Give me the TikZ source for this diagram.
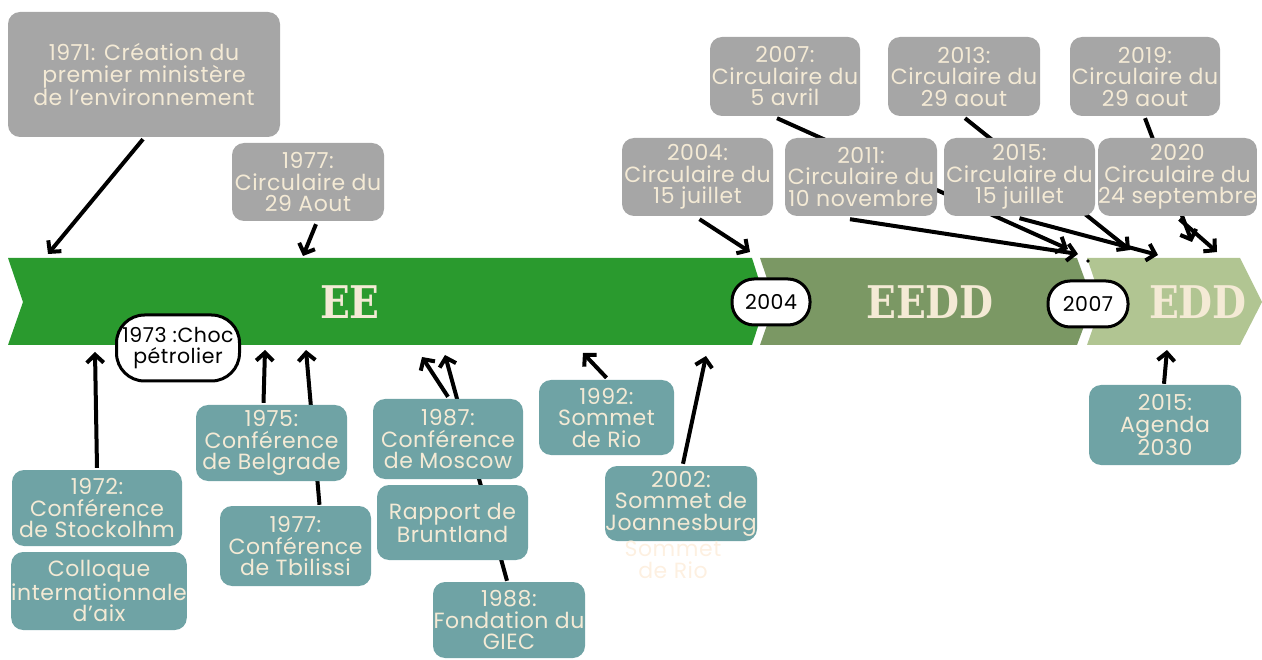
\documentclass[tikz,border=0pt]{standalone}
\usepackage{fontspec}
\setmainfont{Poppins}[LetterSpace=2.5]
\newfontfamily\slab[FakeStretch=0.87]{DejaVu Serif}
\usetikzlibrary{arrows.meta,calc}
\definecolor{boxgray}{HTML}{A6A6A6}
\definecolor{boxteal}{HTML}{6FA3A5}
\definecolor{cream}{HTML}{F4EAD5}
\definecolor{ghost}{HTML}{FDF0E1}
\definecolor{bandA}{HTML}{2A9A2E}
\definecolor{bandB}{HTML}{7B9864}
\definecolor{bandC}{HTML}{B1C592}
\pgfdeclarelayer{background}
\pgfsetlayers{background,main}
\tikzset{
  evbox/.style={rounded corners=12pt, inner sep=0pt, align=center, text=cream,
    font=\fontsize{22}{21.5}\selectfont},
  graybox/.style={evbox, fill=boxgray},
  tealbox/.style={evbox, fill=boxteal},
  oval/.style={draw=black, line width=3pt, fill=white, inner sep=0pt, align=center,
    font=\fontsize{20.5}{21}\selectfont},
  arr/.style={line width=4pt, -{Straight Barb[length=8pt,width=17pt,line width=4pt]}},
  bandlabel/.style={text=cream, font=\slab\bfseries\fontsize{45}{45}\selectfont},
}
\begin{document}
\begin{tikzpicture}[x=1pt,y=-1pt]
\useasboundingbox (0,0) rectangle (1262,660);

% gray boxes (above)
\node[graybox, minimum width=272, minimum height=125] (g1971) at (144,74.5) {1971: Création du\\premier ministère\\de l’environnement};
\node[graybox, minimum width=152, minimum height=78] (g1977) at (308,182) {1977:\\Circulaire du\\29 Aout};
\node[graybox, minimum width=150, minimum height=79] (g2007) at (785,76.5) {2007:\\Circulaire du\\5 avril};
\node[graybox, minimum width=152, minimum height=79] (g2013) at (964,76.5) {2013:\\Circulaire du\\29 aout};
\node[graybox, minimum width=150, minimum height=79] (g2019) at (1145,76.5) {2019:\\Circulaire du\\29 aout};
\node[graybox, minimum width=151, minimum height=78] (g2004) at (697.5,177) {2004:\\Circulaire du\\15 juillet};
\node[graybox, minimum width=152, minimum height=78] (g2011) at (861,177) {2011:\\Circulaire du\\10 novembre};
\node[graybox, minimum width=151, minimum height=78] (g2015) at (1019.5,177) {2015:\\Circulaire du\\15 juillet};
\node[graybox, minimum width=151, minimum height=78] (g2020) at (1177.5,177) {2020\\Circulaire du\\24 septembre};

% teal boxes (below)
\node[tealbox, minimum width=170, minimum height=76] (t1972) at (97,508) {1972:\\Conférence\\de Stockolhm};
\node[tealbox, minimum width=170, minimum height=78] (tcoll) at (99,591) {Colloque\\internationnale\\d’aix};
\node[tealbox, minimum width=151, minimum height=76] (t1975) at (271.5,443) {1975:\\Conférence\\de Belgrade};
\node[tealbox, minimum width=151, minimum height=80] (t1977) at (295.5,546) {1977:\\Conférence\\de Tbilissi};
\node[tealbox, minimum width=150, minimum height=80] (t1987) at (448,439) {1987:\\Conférence\\de Moscow};
\node[tealbox, minimum width=151, minimum height=75] (trap) at (452.5,522.5) {Rapport de\\Bruntland};
\node[tealbox, minimum width=152, minimum height=76] (t1988) at (509,620) {1988:\\Fondation du\\GIEC};
\node[tealbox, minimum width=135, minimum height=75] (t1992) at (606.5,417.5) {1992:\\Sommet\\de Rio};
\node[tealbox, minimum width=152, minimum height=75] (t2002) at (681,503.5) {2002:\\Sommet de\\Joannesburg};
\node[tealbox, minimum width=152, minimum height=80] (t2015) at (1165,425) {2015:\\Agenda\\2030};
\node[align=center, text=ghost, inner sep=0pt, font=\fontsize{22}{21.5}\selectfont] (ghost) at (673,560) {Sommet\\de Rio};

% band targets
\coordinate (e1971) at (48,254);
\coordinate (e1977c) at (303,256);
\coordinate (e2004c) at (750,252);
\coordinate (e2007c) at (1068,249);
\coordinate (e2011c) at (1078,254);
\coordinate (e2013c) at (1130,250);
\coordinate (e2015c) at (1158,255);
\coordinate (e2019c) at (1192,242);
\coordinate (e2020c) at (1217,252);
\coordinate (e1972) at (95,352);
\coordinate (e1975) at (265,350);
\coordinate (e1977) at (306,350);
\coordinate (e1987) at (422,357);
\coordinate (e1988) at (445,355);
\coordinate (e1992) at (583,353);
\coordinate (e2002) at (706,356);
\coordinate (e2015a) at (1167,350);

\begin{pgfonlayer}{background}
% bands
\fill[bandA] (8,258) -- (752,258) -- (766,302) -- (752,345) -- (8,345) -- (23,302) -- cycle;
\fill[bandB] (760,258) -- (1077,258) -- (1093,302) -- (1077,345) -- (760,345) -- (775,302) -- cycle;
\fill[bandC] (1087,258) -- (1240,258) -- (1262,302) -- (1240,345) -- (1087,345) -- (1102,302) -- cycle;
% arrows
\draw[arr] ($(g1971.south)+(-1,2)$) -- (e1971);
\draw[arr] ($(g1977.south)+(8,3)$) -- (e1977c);
\draw[arr] ($(g2004.south)+(2,3)$) -- (e2004c);
\draw[arr] ($(g2007.south)+(-8,2)$) -- (e2007c);
\draw[arr] ($(g2011.south)+(-11,3)$) -- (e2011c);
\draw[arr] ($(g2013.south)+(1,2)$) -- (e2013c);
\draw[arr] ($(g2015.south)+(0,2)$) -- (e2015c);
\draw[arr] ($(g2019.south)+(0,2)$) -- (e2019c);
\draw[arr] ($(g2020.south)+(2,3)$) -- (e2020c);
\draw[arr] ($(t1972.north)+(0,-2)$) -- (e1972);
\draw[arr] ($(t1975.north)+(-8,-2)$) -- (e1975);
\draw[arr] ($(t1977.north)+(24,-1)$) -- (e1977);
\draw[arr] ($(t1987.north)+(0,-2)$) -- (e1987);
\draw[arr] ($(t1988.north)+(-2,-1)$) -- (e1988);
\draw[arr] ($(t1992.north)+(0,-2)$) -- (e1992);
\draw[arr] ($(t2002.north)+(2,-2)$) -- (e2002);
\draw[arr] ($(t2015.north)+(-1,-1)$) -- (e2015a);
\fill (1088,261) circle (1.8);
\end{pgfonlayer}

% band labels
\node[bandlabel] (lEE) at (350,302) {EE};
\node[bandlabel] (lEEDD) at (930,302) {EEDD};
\node[bandlabel] (lEDD) at (1198,302) {EDD};

% ovals
\node[oval, minimum width=78, minimum height=46, rounded corners=22pt] (o2004) at (771,302) {2004};
\node[oval, minimum width=80, minimum height=46, rounded corners=22pt] (o2007) at (1088,304) {2007};
\node[oval, minimum width=123, minimum height=66, rounded corners=28pt] (o1973) at (178,348) {1973 :Choc\\pétrolier};
\end{tikzpicture}
\end{document}
